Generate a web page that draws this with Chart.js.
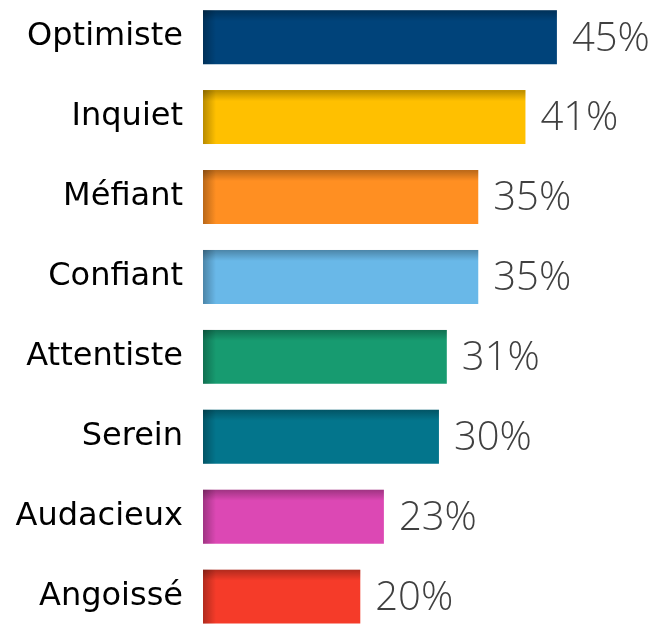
<!DOCTYPE html>
<html lang="fr">
<head>
  <meta charset="UTF-8">
  <title>Etat d'esprit</title>
  <script src="https://cdn.jsdelivr.net/npm/chart.js"></script>
  <style>
    html, body { margin: 0; padding: 0; background: #fff; overflow: hidden; }
    /* the y labels add ~38px padding above and below the plot, so push the canvas out */
    .chart-box { position: absolute; left: 0; top: -42.4px; width: 656px; height: 717.8px; }
  </style>
</head>
<body>
  <div class="chart-box">
    <canvas id="moodChart"></canvas>
  </div>

  <script>
    // data
    const labels = ['Optimiste', 'Inquiet', 'Méfiant', 'Confiant', 'Attentiste', 'Serein', 'Audacieux', 'Angoissé'];
    const values = [45, 41, 35, 35, 31, 30, 23, 20];
    const barColors = ['#00437a', '#ffc000', '#ff8f22', '#69b8e8', '#179b70', '#03758c', '#dc48b4', '#f53b29'];

    // shading on top and left edge of each bar + value text
    const barDecor = {
      id: 'barDecor',
      afterDatasetsDraw(chart) {
        const ctx = chart.ctx;
        const meta = chart.getDatasetMeta(0);
        meta.data.forEach((bar, i) => {
          const p = bar.getProps(['x', 'y', 'base', 'height'], true);
          const top = p.y - p.height / 2;
          const left = p.base;
          const w = p.x - p.base;
          ctx.save();
          let g = ctx.createLinearGradient(0, top, 0, top + 11);
          g.addColorStop(0, 'rgba(0,0,0,0.28)');
          g.addColorStop(1, 'rgba(0,0,0,0)');
          ctx.fillStyle = g;
          ctx.fillRect(left, top, w, 11);
          g = ctx.createLinearGradient(left, 0, left + 13, 0);
          g.addColorStop(0, 'rgba(0,0,0,0.28)');
          g.addColorStop(1, 'rgba(0,0,0,0)');
          ctx.fillStyle = g;
          ctx.fillRect(left, top, 13, p.height);

          ctx.fillStyle = '#404040';
          ctx.font = '300 40px "Open Sans"';
          ctx.textAlign = 'left';
          ctx.textBaseline = 'middle';
          ctx.fillText(values[i] + '%', p.x + 15, p.y + 2);
          ctx.restore();
        });
      }
    };

    const chart = new Chart(document.getElementById('moodChart'), {
      type: 'bar',
      data: {
        labels: labels,
        datasets: [{
          data: values,
          backgroundColor: barColors,
          borderWidth: 0,
          categoryPercentage: 1,
          barPercentage: 0.675
        }]
      },
      options: {
        indexAxis: 'y',
        responsive: true,
        maintainAspectRatio: false,
        animation: false,
        layout: { padding: 0 },
        plugins: {
          legend: { display: false },
          tooltip: { enabled: false }
        },
        scales: {
          x: { display: false, min: 0, max: 57.6 },
          y: {
            grid: { display: false, drawTicks: false },
            border: { display: false },
            ticks: {
              color: '#000',
              padding: 20,
              font: { family: 'DejaVu Sans', size: 32 }
            },
            afterFit(scale) { scale.width = 203; }
          }
        }
      },
      plugins: [barDecor]
    });
  </script>
</body>
</html>
